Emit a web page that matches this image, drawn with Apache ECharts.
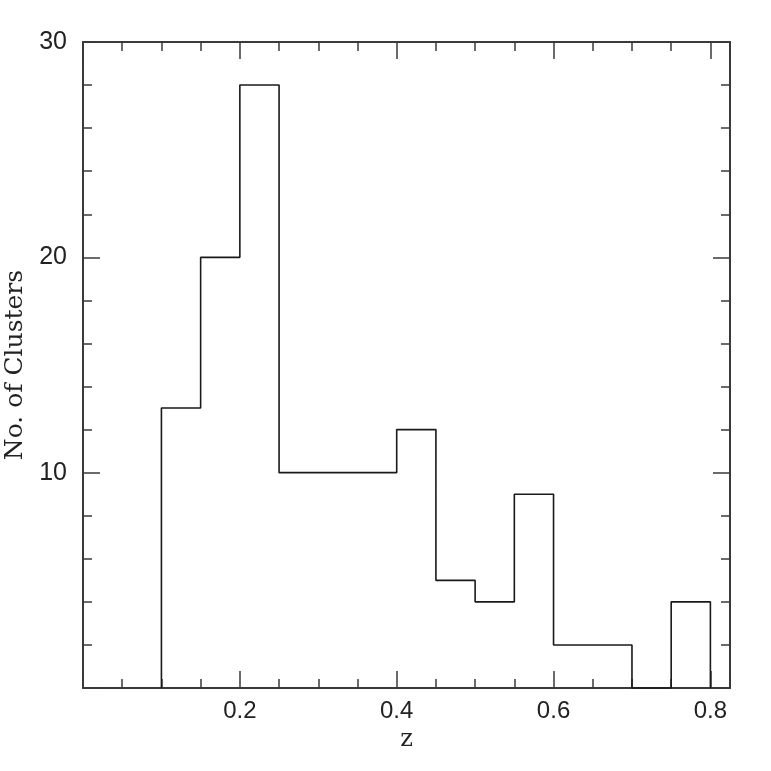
<!DOCTYPE html>
<html>
<head>
<meta charset="utf-8">
<script src="https://cdn.jsdelivr.net/npm/echarts@6/dist/echarts.min.js"></script>
<style>
html,body{margin:0;padding:0;background:#fff;}
#chart{width:771px;height:771px;}
</style>
</head>
<body>
<div id="chart"></div>
<script>
// Histogram bin edges (z) and cluster counts per bin
const binEdges = [0.10, 0.15, 0.20, 0.25, 0.30, 0.35, 0.40, 0.45, 0.50, 0.55, 0.60, 0.65, 0.70, 0.75, 0.80];
const counts   = [13, 20, 28, 10, 10, 10, 12, 5, 4, 9, 2, 2, 0, 4];
const xTickLabels = ['0.2', '0.4', '0.6', '0.8'];
const yTickLabels = ['10', '20', '30'];
const xName = 'z';
const yName = 'No. of Clusters';

const points = [[binEdges[0], 0]];
counts.forEach((c, i) => points.push([binEdges[i + 1], c]));
points.push([binEdges[binEdges.length - 1], 0]);

const frameColor = '#3a3a3a';
const labelFont = 'Liberation Sans';

function xFmt(v) {
  const s = (Math.round(v * 10) / 10).toFixed(1);
  return (Math.abs(v - parseFloat(s)) < 1e-9 && xTickLabels.indexOf(s) >= 0) ? s : '';
}
function yFmt(v) {
  const s = String(Math.round(v));
  return yTickLabels.indexOf(s) >= 0 && Math.abs(v - Math.round(v)) < 1e-9 ? s : '';
}

function xAxisDef(pos, interval, len, withLabel, withLine) {
  return {
    type: 'value', position: pos, min: 0, max: 0.825, interval: interval,
    axisLine: { show: withLine, onZero: false, lineStyle: { color: frameColor, width: 2 } },
    axisTick: { show: true, inside: true, length: len, lineStyle: { color: frameColor, width: 1.5 } },
    axisLabel: { show: withLabel, formatter: xFmt, margin: 11, color: '#222', fontSize: 24, fontFamily: labelFont },
    splitLine: { show: false },
    name: withLabel ? xName : '',
    nameLocation: 'middle', nameGap: 39,
    nameTextStyle: { fontFamily: 'DejaVu Serif', fontSize: 24, color: '#222' }
  };
}
function yAxisDef(pos, withLabel) {
  return {
    type: 'value', position: pos, min: 0, max: 30, interval: 10,
    axisLine: { show: true, onZero: false, lineStyle: { color: frameColor, width: 2 } },
    axisTick: { show: true, inside: true, length: 17, lineStyle: { color: frameColor, width: 1.5 } },
    minorTick: { show: true, splitNumber: 5, length: 9, lineStyle: { color: frameColor, width: 1.5 } },
    axisLabel: { show: withLabel, formatter: yFmt, margin: 16, color: '#222', fontSize: 25, fontFamily: labelFont, showMinLabel: false },
    splitLine: { show: false }, minorSplitLine: { show: false },
    name: withLabel ? yName : '',
    nameLocation: 'middle', nameGap: 53, nameRotate: 90,
    nameTextStyle: { fontFamily: 'DejaVu Serif', fontSize: 25, color: '#222' }
  };
}

const chart = echarts.init(document.getElementById('chart'), null, { renderer: 'canvas' });
chart.setOption({
  backgroundColor: '#fff',
  animation: false,
  grid: { left: 83, right: 41, top: 42, bottom: 83, containLabel: false, outerBoundsMode: 'none' },
  xAxis: [
    xAxisDef('bottom', 0.2, 17, true, true),
    xAxisDef('bottom', 0.05, 9, false, false),
    xAxisDef('top', 0.2, 17, false, true),
    xAxisDef('top', 0.05, 9, false, false)
  ],
  yAxis: [
    yAxisDef('left', true),
    yAxisDef('right', false)
  ],
  series: [{
    type: 'line',
    step: 'start',
    xAxisIndex: 0, yAxisIndex: 0,
    data: points,
    symbol: 'none',
    lineStyle: { color: '#1a1a1a', width: 1.6 },
    clip: false
  }]
});
</script>
</body>
</html>
